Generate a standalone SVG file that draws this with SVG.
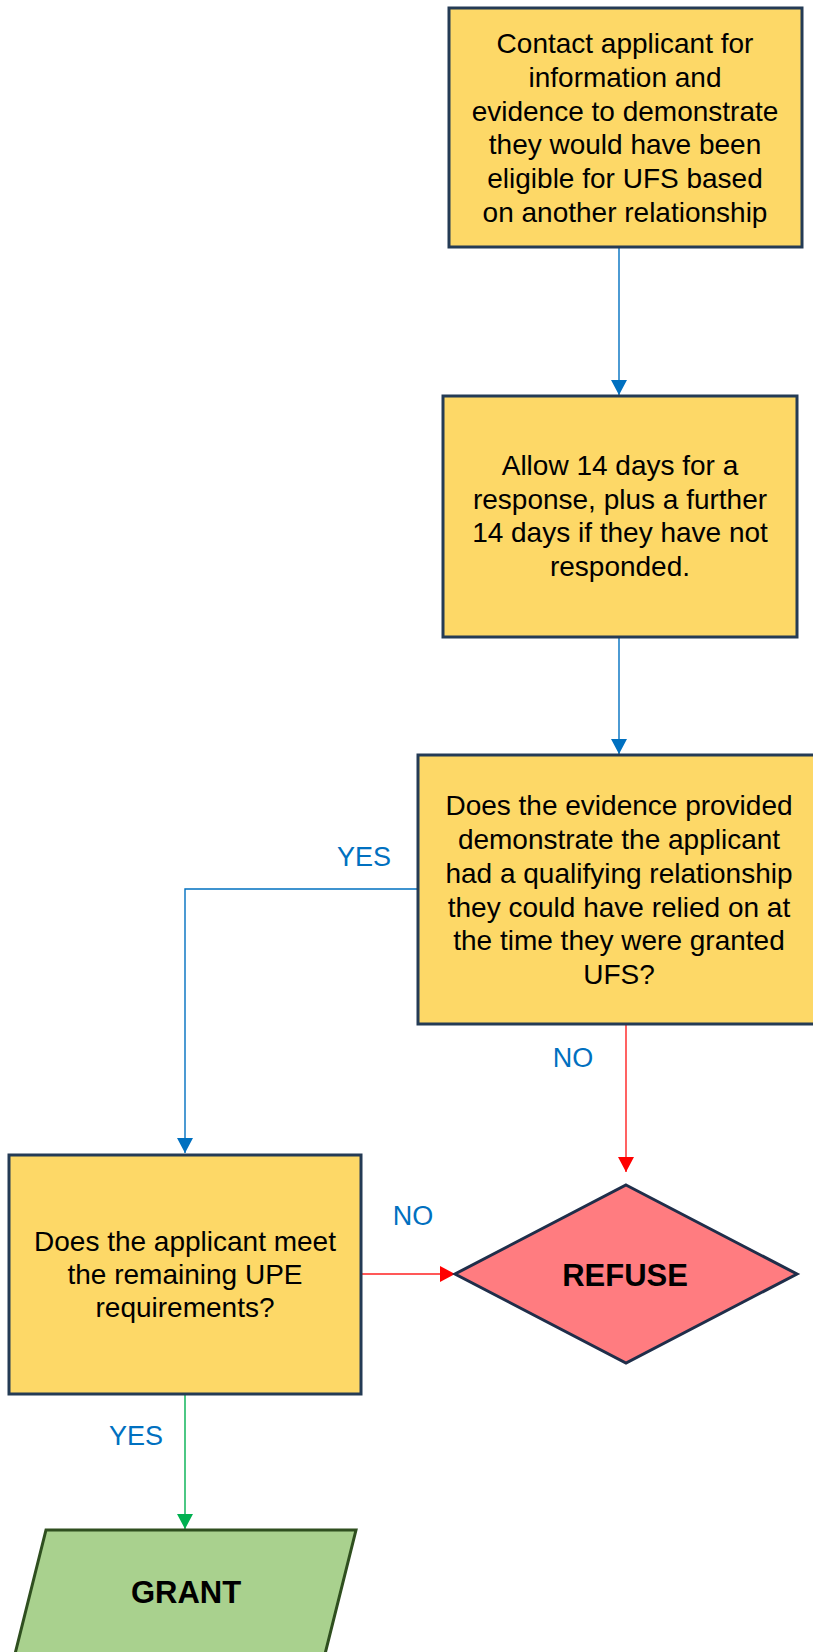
<svg xmlns="http://www.w3.org/2000/svg" width="813" height="1652" viewBox="0 0 813 1652">
<style>
.box{fill:#FDD867;stroke:#243B55;stroke-width:3}
.t{font-family:"Liberation Sans",Arial,sans-serif;font-size:28px;fill:#000;text-anchor:middle}
.b{font-family:"Liberation Sans",Arial,sans-serif;font-size:31px;font-weight:bold;fill:#000;text-anchor:middle}
.lbl{font-family:"Liberation Sans",Arial,sans-serif;font-size:27px;fill:#0070C0;text-anchor:middle}
.cb{fill:none;stroke:#0070C0;stroke-width:1.4}
.cr{fill:none;stroke:#FF2020;stroke-width:1.4}
.cg{fill:none;stroke:#00B050;stroke-width:1.4}
</style>
<defs>
<marker id="ab" markerUnits="userSpaceOnUse" markerWidth="16" markerHeight="16" viewBox="0 0 16 16" refX="15" refY="8" orient="auto"><path d="M0,0 L15,8 L0,16 Z" fill="#0070C0"/></marker>
<marker id="ar" markerUnits="userSpaceOnUse" markerWidth="16" markerHeight="16" viewBox="0 0 16 16" refX="15" refY="8" orient="auto"><path d="M0,0 L15,8 L0,16 Z" fill="#FF0000"/></marker>
<marker id="ag" markerUnits="userSpaceOnUse" markerWidth="16" markerHeight="16" viewBox="0 0 16 16" refX="15" refY="8" orient="auto"><path d="M0,0 L15,8 L0,16 Z" fill="#00B050"/></marker>
</defs>
<rect width="813" height="1652" fill="#fff"/>
<g id="connectors">
<path class="cb" d="M619,248 L619,395" marker-end="url(#ab)"/>
<path class="cb" d="M619,638 L619,754" marker-end="url(#ab)"/>
<path class="cb" d="M418,889 L185,889 L185,1153" marker-end="url(#ab)"/>
<path class="cr" d="M626,1025 L626,1172" marker-end="url(#ar)"/>
<path class="cr" d="M362,1274 L455,1274" marker-end="url(#ar)"/>
<path class="cg" d="M185,1395 L185,1529" marker-end="url(#ag)"/>
<text class="lbl" x="364" y="866">YES</text>
<text class="lbl" x="573" y="1067">NO</text>
<text class="lbl" x="413" y="1225">NO</text>
<text class="lbl" x="136" y="1445">YES</text>
</g>
<g id="contact">
<rect class="box" x="449" y="8" width="353" height="239"/>
<text class="t" x="625" y="53">Contact applicant for</text>
<text class="t" x="625" y="87">information and</text>
<text class="t" x="625" y="120.5">evidence to demonstrate</text>
<text class="t" x="625" y="154">they would have been</text>
<text class="t" x="625" y="188">eligible for UFS based</text>
<text class="t" x="625" y="221.5">on another relationship</text>
</g>
<g id="allow">
<rect class="box" x="443" y="396" width="354" height="241"/>
<text class="t" x="620" y="475">Allow 14 days for a</text>
<text class="t" x="620" y="508.5">response, plus a further</text>
<text class="t" x="620" y="542">14 days if they have not</text>
<text class="t" x="620" y="575.5">responded.</text>
</g>
<g id="evidence">
<rect class="box" x="418" y="755" width="404" height="269"/>
<text class="t" x="619" y="815">Does the evidence provided</text>
<text class="t" x="619" y="849">demonstrate the applicant</text>
<text class="t" x="619" y="883">had a qualifying relationship</text>
<text class="t" x="619" y="916.5">they could have relied on at</text>
<text class="t" x="619" y="950">the time they were granted</text>
<text class="t" x="619" y="983.5">UFS?</text>
</g>
<g id="upe">
<rect class="box" x="9" y="1155" width="352" height="239"/>
<text class="t" x="185" y="1251">Does the applicant meet</text>
<text class="t" x="185" y="1284">the remaining UPE</text>
<text class="t" x="185" y="1317">requirements?</text>
</g>
<g id="refuse">
<path d="M626,1185 L797,1274 L626,1363 L455,1274 Z" fill="#FF7C80" stroke="#1F2E4A" stroke-width="3" stroke-linejoin="miter"/>
<text class="b" x="625" y="1286">REFUSE</text>
</g>
<g id="grant">
<path d="M46,1530 L356,1530 L324,1658 L14,1658 Z" fill="#A9D18E" stroke="#2F4F1F" stroke-width="3"/>
<text class="b" x="186" y="1603">GRANT</text>
</g>
</svg>
